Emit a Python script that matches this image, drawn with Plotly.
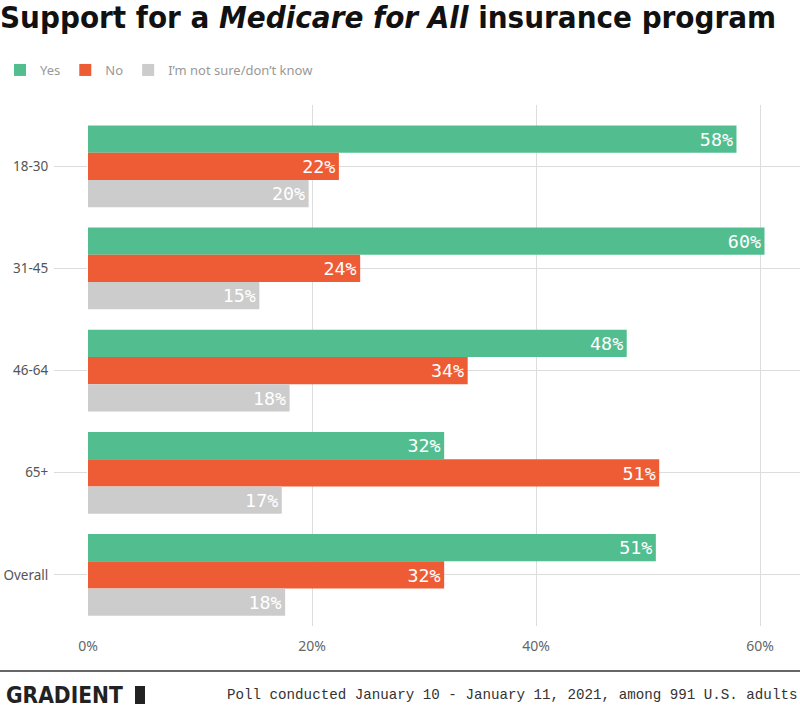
import plotly.graph_objects as go

categories = ["18-30", "31-45", "46-64", "65+", "Overall"]
yes_vals = [57.9, 60.4, 48.1, 31.8, 50.7]
no_vals = [22.4, 24.3, 33.9, 51.0, 31.8]
unsure_vals = [19.7, 15.3, 18.0, 17.3, 17.6]
series_names = ["Yes", "No", "I\u2019m not sure/don\u2019t know"]
series_colors = ["#52BE8F", "#EE5C36", "#CCCCCC"]
x_ticks = [0, 20, 40, 60]
x_tick_labels = ["0%", "20%", "40%", "60%"]

W, H = 800, 711
L, R, T, B = 88, 0, 105, 85
PW, PH = W - L - R, H - T - B


def px_x(x):
    return (x - L) / PW


def px_y(y):
    return (H - B - y) / PH


fig = go.Figure()
for name, vals, color in zip(series_names, [yes_vals, no_vals, unsure_vals], series_colors):
    fig.add_trace(go.Bar(
        y=categories, x=vals, name=name, orientation="h",
        marker=dict(color=color, line=dict(width=0)),
        texttemplate="%{x:.0f}%", textposition="inside", insidetextanchor="end",
        textfont=dict(color="white", size=19, family="DejaVu Sans Mono"),
        cliponaxis=False,
    ))

fig.update_layout(
    width=W, height=H,
    margin=dict(l=L, r=R, t=T, b=B),
    plot_bgcolor="white", paper_bgcolor="white",
    barmode="group", bargap=0.2, bargroupgap=0,
    title=dict(text="<b>Support for a <i>Medicare for All</i> insurance program</b>",
               xref="container", yref="container", x=0, y=1 - 17 / H,
               xanchor="left", yanchor="middle",
               font=dict(size=31, color="#111111", family="DejaVu Sans Condensed")),
    showlegend=True,
    legend=dict(orientation="h", xref="container", yref="container", x=-0.008, y=1 - 70 / H,
                xanchor="left", yanchor="middle",
                font=dict(size=13, color="#999999", family="Noto Sans"),
                traceorder="normal", itemwidth=30),
    xaxis=dict(range=[0, 63.57], tickvals=x_ticks, ticktext=x_tick_labels,
               showgrid=True, gridcolor="#DDDDDD", gridwidth=1, zeroline=False,
               ticks="", ticklabelstandoff=10,
               tickfont=dict(size=14, color="#666666", family="Noto Sans"),
               showline=False, fixedrange=True),
    yaxis=dict(categoryorder="array", categoryarray=categories,
               range=[4.5, -0.6], showgrid=True, gridcolor="#DDDDDD", gridwidth=1,
               ticks="outside", ticklen=33, tickcolor="#DDDDDD", tickwidth=1,
               tickfont=dict(size=13.5, color="#555555", family="Noto Sans"),
               ticklabelstandoff=3, showline=False, zeroline=False),
    font=dict(family="Noto Sans"),
)

fig.add_shape(type="line", xref="paper", yref="paper",
              x0=px_x(0), x1=px_x(W), y0=px_y(671), y1=px_y(671),
              line=dict(color="#666666", width=2))
fig.add_annotation(text="<b>GRADIENT</b>", xref="paper", yref="paper",
                   x=px_x(4), y=px_y(695), xanchor="left", yanchor="middle",
                   showarrow=False,
                   font=dict(size=22.5, color="#222222", family="DejaVu Sans Condensed"))
fig.add_shape(type="rect", xref="paper", yref="paper",
              x0=px_x(135), x1=px_x(145), y0=px_y(704), y1=px_y(686),
              fillcolor="#222222", line=dict(width=0))
fig.add_annotation(text="Poll conducted January 10 - January 11, 2021, among 991 U.S. adults",
                   xref="paper", yref="paper", x=px_x(799), y=px_y(695),
                   xanchor="right", yanchor="middle", showarrow=False,
                   font=dict(size=14.2, color="#333333", family="Liberation Mono"))

fig.write_html("out.html", config={"displayModeBar": False},
               post_script="document.body.style.margin='0';")
